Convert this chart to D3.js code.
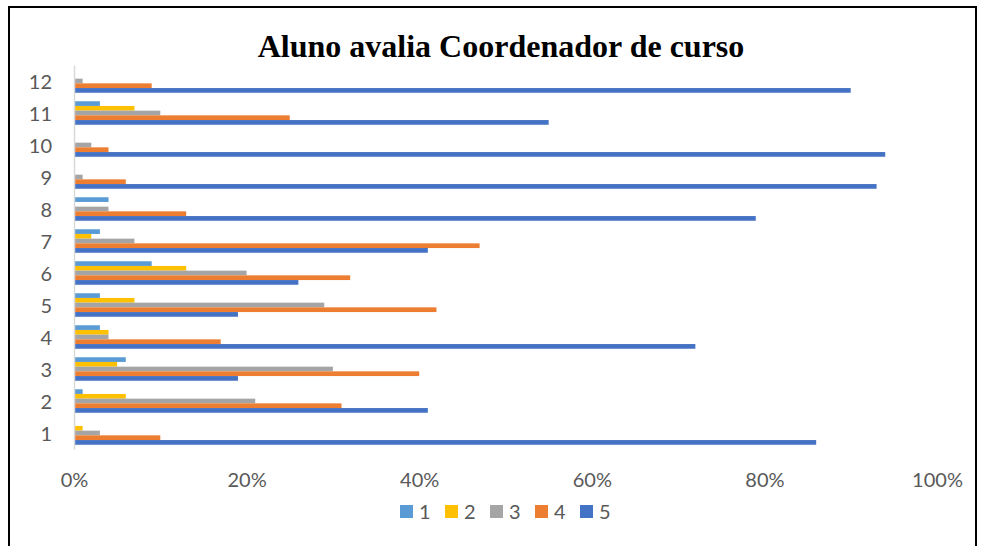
<!DOCTYPE html>
<html>
<head>
<meta charset="utf-8">
<script src="https://cdn.jsdelivr.net/npm/d3@7"></script>
<style>
  html, body { margin: 0; padding: 0; background: #fff; }
  svg { display: block; }
</style>
</head>
<body>
<script>
// Questions 1..12, share of answers for each score 1..5
const categories = ["1","2","3","4","5","6","7","8","9","10","11","12"];
const seriesNames = ["1","2","3","4","5"];
const score1 = [0.00, 0.01, 0.06, 0.03, 0.03, 0.09, 0.03, 0.04, 0.00, 0.00, 0.03, 0.00];
const score2 = [0.01, 0.06, 0.05, 0.04, 0.07, 0.13, 0.02, 0.00, 0.00, 0.00, 0.07, 0.00];
const score3 = [0.03, 0.21, 0.30, 0.04, 0.29, 0.20, 0.07, 0.04, 0.01, 0.02, 0.10, 0.01];
const score4 = [0.10, 0.31, 0.40, 0.17, 0.42, 0.32, 0.47, 0.13, 0.06, 0.04, 0.25, 0.09];
const score5 = [0.86, 0.41, 0.19, 0.72, 0.19, 0.26, 0.41, 0.79, 0.93, 0.94, 0.55, 0.90];
const xTicks = [0, 0.2, 0.4, 0.6, 0.8, 1.0];
const colors = ["#5B9BD5", "#FFC000", "#A5A5A5", "#ED7D31", "#4472C4"];

const seriesValues = [score1, score2, score3, score4, score5];

const W = 981, H = 546;
const svg = d3.select("body").append("svg").attr("width", W).attr("height", H);

// outer frame
svg.append("path")
  .attr("d", `M9,${H + 5} L9,7 L976,7 L976,${H + 5}`)
  .attr("fill", "none").attr("stroke", "#000").attr("stroke-width", 2);

// title
svg.append("text")
  .attr("x", 501).attr("y", 57)
  .attr("text-anchor", "middle")
  .attr("font-family", "'Liberation Serif', 'Times New Roman', serif")
  .attr("font-weight", "bold")
  .attr("font-size", 32)
  .attr("fill", "#000")
  .text("Aluno avalia Coordenador de curso");

const x = d3.scaleLinear().domain([0, 1]).range([74, 937]);
const y = d3.scaleBand().domain(categories).range([449, 65]).paddingInner(0).paddingOuter(0);
const groupH = 23.5;
const sub = d3.scaleBand().domain(seriesNames)
  .range([(y.bandwidth() - groupH) / 2, (y.bandwidth() + groupH) / 2]);

const font = "Lato, 'Open Sans', sans-serif";
const textColor = "#595959";

// bars
seriesNames.forEach((s, si) => {
  svg.append("g")
    .selectAll("rect")
    .data(categories.map((c, ci) => ({ c, v: seriesValues[si][ci] })))
    .join("rect")
    .attr("x", x(0))
    .attr("y", d => y(d.c) + sub(s))
    .attr("width", d => x(d.v) - x(0))
    .attr("height", sub.bandwidth())
    .attr("fill", colors[si]);
});

// vertical category axis
const yAxis = svg.append("g").attr("transform", `translate(${x(0)},0)`)
  .call(d3.axisLeft(y).tickSize(0).tickPadding(22));
yAxis.select(".domain").attr("stroke", "#D9D9D9").attr("stroke-width", 1.5);
yAxis.selectAll("text")
  .attr("font-family", font).attr("font-size", 20).attr("fill", textColor)
  .attr("dy", "0.38em");

// horizontal value axis labels
const xAxis = svg.append("g").attr("transform", `translate(0,469)`)
  .call(d3.axisBottom(x).tickValues(xTicks).tickFormat(d3.format(".0%")).tickSize(0).tickPadding(4));
xAxis.select(".domain").remove();
xAxis.selectAll("text")
  .attr("font-family", font).attr("font-size", 20).attr("fill", textColor);

// legend
const legend = svg.append("g").attr("transform", "translate(400,505)");
seriesNames.forEach((s, i) => {
  const g = legend.append("g").attr("transform", `translate(${i * 45},0)`);
  g.append("rect").attr("width", 13).attr("height", 13).attr("fill", colors[i]);
  g.append("text").attr("x", 19).attr("y", 13.5)
    .attr("font-family", font).attr("font-size", 20).attr("fill", textColor)
    .text(s);
});
</script>
</body>
</html>
